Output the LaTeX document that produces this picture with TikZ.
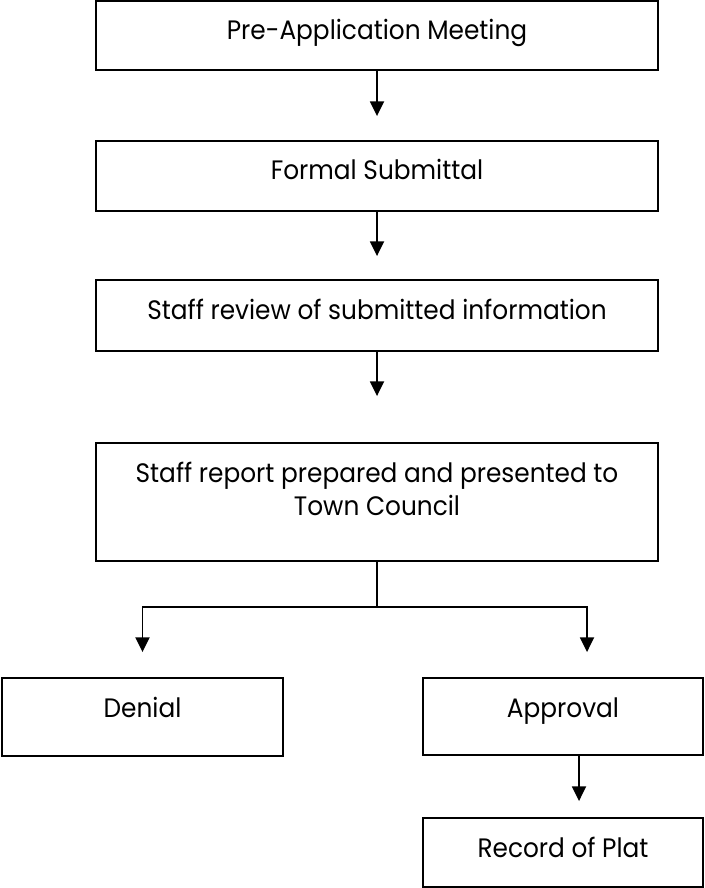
\documentclass[tikz,border=0pt]{standalone}
\usepackage{fontspec}
\setmainfont{Poppins}[FakeStretch=0.93]
\usetikzlibrary{arrows.meta}

\begin{document}
\begin{tikzpicture}[x=0.75pt, y=-0.75pt, line width=1.4pt,
    every node/.style={font=\fontsize{20}{24.75}\selectfont},
    stagebox/.style={draw, inner sep=0pt, minimum width=421.5pt, text height=29.25pt, align=center},
    endbox/.style={stagebox, minimum width=210.5pt},
    arr/.style={-{Triangle[length=11pt, width=10.5pt]}}]
  \useasboundingbox (0,0) rectangle (704,888);

  \node[stagebox, text depth=22.5pt] (pre) at (377,35.5) {Pre-Application Meeting};
  \node[stagebox, text depth=23.25pt] (sub) at (377,176) {Formal Submittal};
  \node[stagebox, text depth=24pt] (rev) at (377,315.5) {Staff review of submitted information};
  \node[stagebox, text height=54pt, text depth=34.5pt] (rep) at (377,502)
    {Staff report prepared and presented to\\Town Council};

  \node[endbox, text depth=29.25pt] (den) at (142.5,717) {Denial};
  \node[endbox, text depth=28.5pt] (app) at (563,716.5) {Approval};
  \node[endbox, text depth=22.5pt] (rec) at (563,852.5) {Record of Plat};

  \coordinate (split) at (377,607);

  \draw[arr, shorten >=18pt] (pre) -- (sub);
  \draw[arr, shorten >=17.25pt] (sub) -- (rev);
  \draw[arr, shorten >=34.5pt] (rev) -- (rep);
  \draw (rep) -- (split);
  \draw[arr, shorten >=18.75pt] (split) -| (den);
  \draw[arr, shorten >=18.75pt] (split) -| ([xshift=18pt]app.north);
  \draw[arr, shorten >=12pt] ([xshift=12pt]app.south) -- ([xshift=12pt]rec.north);
\end{tikzpicture}
\end{document}
